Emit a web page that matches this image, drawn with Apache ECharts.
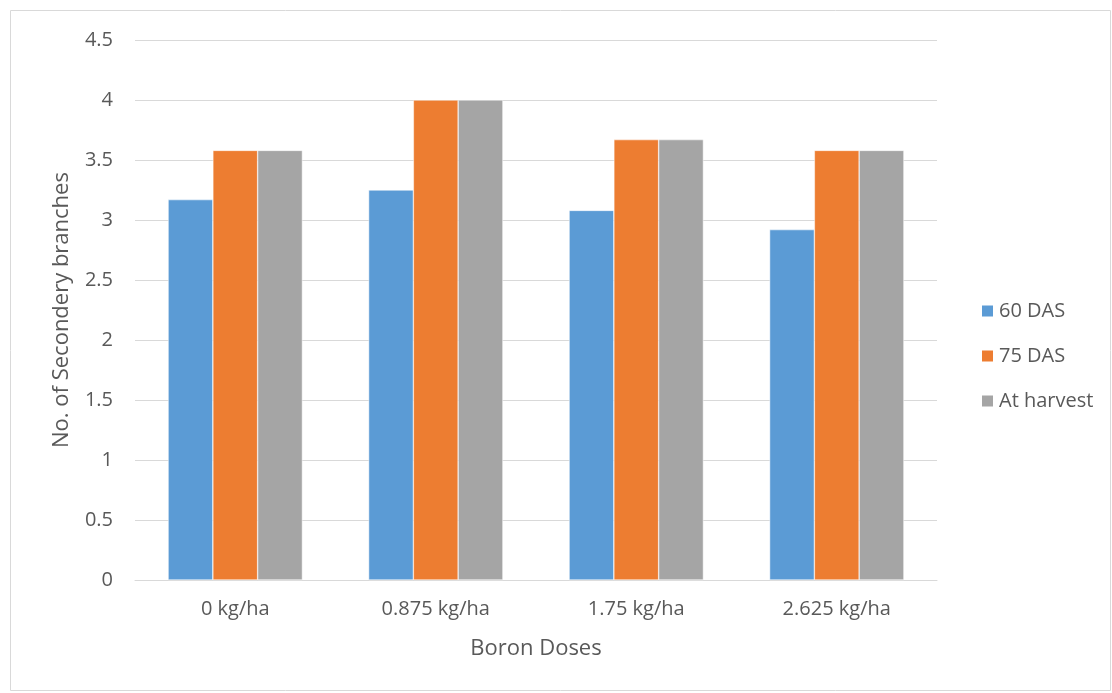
<!DOCTYPE html>
<html><head><meta charset="utf-8">
<script src="https://cdn.jsdelivr.net/npm/echarts@6/dist/echarts.min.js"></script>
<style>html,body{margin:0;padding:0;background:#fff}#c{width:1112px;height:693px}</style>
</head><body><div id="c"></div>
<script>
const categories = ['0 kg/ha', '0.875 kg/ha', '1.75 kg/ha', '2.625 kg/ha'];
const das60 = [3.17, 3.25, 3.08, 2.92];
const das75 = [3.58, 4.0, 3.67, 3.58];
const harvest = [3.58, 4.0, 3.67, 3.58];
const seriesNames = ['60 DAS', '75 DAS', 'At harvest'];
const colors = ['#5B9BD5', '#ED7D31', '#A5A5A5'];
const font = 'Open Sans';
const chart = echarts.init(document.getElementById('c'));
const mk = (name, data, color) => ({
  name, type: 'bar', data, barGap: '0%', barCategoryGap: '33%',
  itemStyle: { color, borderColor: '#ffffff', borderWidth: 0.5 }
});
chart.setOption({
  animation: false,
  textStyle: { fontFamily: font },
  graphic: [{ type: 'rect', shape: { x: 10.5, y: 10.5, width: 1100, height: 680 }, style: { fill: 'none', stroke: '#d9d9d9', lineWidth: 1 } }],
  grid: { left: 135, right: 175, top: 40, bottom: 113 },
  legend: {
    orient: 'vertical', left: 975, top: 296, itemGap: 25, itemWidth: 13, itemHeight: 13,
    icon: 'rect', textStyle: { fontSize: 20, color: '#595959', fontFamily: font },
    data: seriesNames
  },
  xAxis: {
    type: 'category', data: categories,
    name: 'Boron Doses', nameLocation: 'middle', nameGap: 58,
    nameTextStyle: { fontSize: 22, color: '#595959', fontFamily: font },
    axisLine: { lineStyle: { color: '#d9d9d9' } }, axisTick: { show: false },
    axisLabel: { fontSize: 20, color: '#595959', margin: 19 }
  },
  yAxis: {
    type: 'value', min: 0, max: 4.5, interval: 0.5,
    name: 'No. of Secondery branches', nameLocation: 'middle', nameGap: 62,
    nameTextStyle: { fontSize: 22, color: '#595959', fontFamily: font },
    axisLine: { show: false }, axisTick: { show: false },
    axisLabel: { fontSize: 20, color: '#595959', margin: 22 },
    splitLine: { lineStyle: { color: '#d9d9d9', width: 1 } }
  },
  series: [mk(seriesNames[0], das60, colors[0]), mk(seriesNames[1], das75, colors[1]), mk(seriesNames[2], harvest, colors[2])]
});
</script></body></html>
